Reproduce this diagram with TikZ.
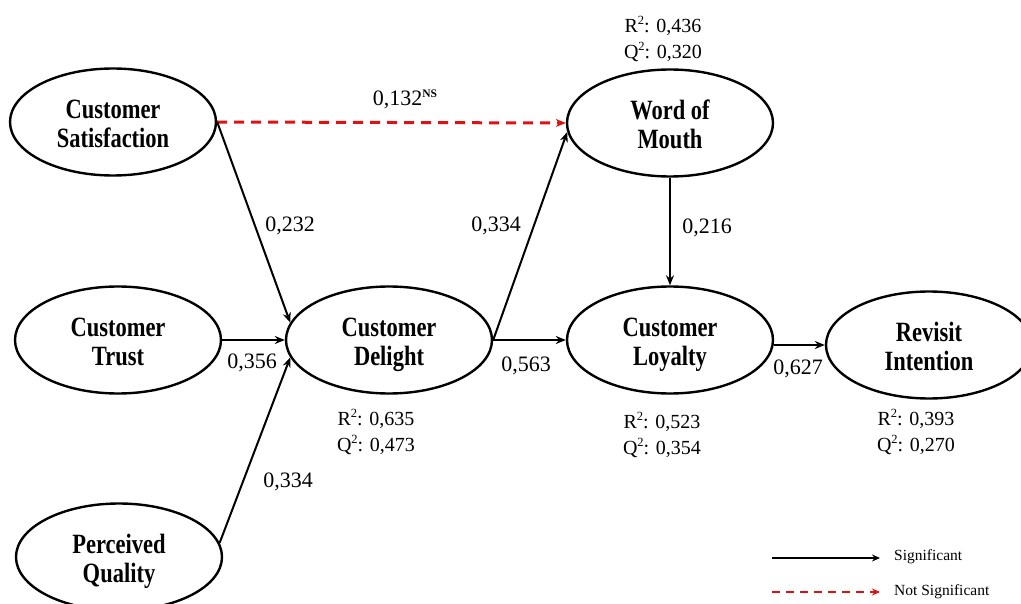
\documentclass[tikz,border=0pt]{standalone}
\usepackage{fontspec}
\setmainfont{Liberation Serif}
\usepackage{graphicx}
\usetikzlibrary{shapes.geometric,arrows.meta}
\definecolor{nsred}{RGB}{222,18,18}
\newcommand\lab[1]{\raisebox{-5pt}[\height][\depth]{\scalebox{1}[1.24]{\begin{tabular}{@{}c@{}}#1\end{tabular}}}}
\newcommand\suptwo{\raisebox{0.42em}{\fontsize{12.5}{12.5}\selectfont 2}}
\begin{document}
\begin{tikzpicture}[x=1pt,y=-1pt,
  construct/.style={ellipse,draw,line width=2.4pt,minimum width=206pt,minimum height=107pt,inner sep=0pt,
    font=\fontsize{22.5}{24}\selectfont\bfseries},
  path/.style={line width=2pt,-{Stealth[length=10pt,width=8pt]}},
  nspath/.style={line width=3pt,nsred,dash pattern=on 10pt off 7pt,-{Stealth[length=10pt,width=8pt]}},
  coef/.style={font=\fontsize{22}{26}\selectfont,inner sep=0pt},
  stat/.style={font=\fontsize{20}{26}\selectfont,inner sep=0pt,align=center},
  legtext/.style={font=\fontsize{15.5}{18}\selectfont,inner sep=0pt,anchor=west}]
\clip (0,0) rectangle (1021,604);
% constructs
\node[construct] (cs) at (113,122) {\lab{Customer\\Satisfaction}};
\node[construct] (ct) at (118,340) {\lab{Customer\\Trust}};
\node[construct] (pq) at (119,557) {\lab{Perceived\\Quality}};
\node[construct] (cd) at (389,340) {\lab{Customer\\Delight}};
\node[construct] (wom) at (670,123) {\lab{Word of\\Mouth}};
\node[construct] (cl) at (670,340) {\lab{Customer\\Loyalty}};
\node[construct] (ri) at (929,345) {\lab{Revisit\\Intention}};
% paths
\draw[nspath] (cs.east) -- (wom.west);
\draw[path] (cs.east) -- (cd.170);
\draw[path] (ct.east) -- (cd.west);
\draw[path] (pq.8) -- (cd.190);
\draw[path] (cd.east) -- (wom.185);
\draw[path] (cd.east) -- (cl.west);
\draw[path] (wom.south) -- (cl.north);
\draw[path] (cl.east |- ri.west) -- (ri.west);
% coefficients
\node[coef] (k1) at (405,99) {0,132\raisebox{8pt}{\fontsize{11.5}{12}\selectfont\bfseries NS}};
\node[coef] (k2) at (290,226) {0,232};
\node[coef] (k3) at (496,226) {0,334};
\node[coef] (k4) at (707,228) {0,216};
\node[coef] (k5) at (252,363) {0,356};
\node[coef] (k6) at (526,366) {0,563};
\node[coef] (k7) at (798,369) {0,627};
\node[coef] (k8) at (288,482) {0,334};
% R2 / Q2
\node[stat] (s1) at (663,39) {R\suptwo: 0,436\\Q\suptwo: 0,320};
\node[stat] (s2) at (376,432) {R\suptwo: 0,635\\Q\suptwo: 0,473};
\node[stat] (s3) at (662,435) {R\suptwo: 0,523\\Q\suptwo: 0,354};
\node[stat] (s4) at (916,432) {R\suptwo: 0,393\\Q\suptwo: 0,270};
% legend
\coordinate (l1a) at (772,558);
\coordinate (l1b) at (880,558);
\coordinate (l2a) at (772,592);
\coordinate (l2b) at (880,592);
\draw[line width=2.2pt,-{Stealth[length=8pt,width=7pt]}] (l1a) -- (l1b);
\draw[line width=2.6pt,nsred,dash pattern=on 8pt off 6pt,-{Stealth[length=8pt,width=7pt]}] (l2a) -- (l2b);
\node[legtext] (t1) at (894,557) {Significant};
\node[legtext] (t2) at (894,592) {Not Significant};
\end{tikzpicture}
\end{document}
